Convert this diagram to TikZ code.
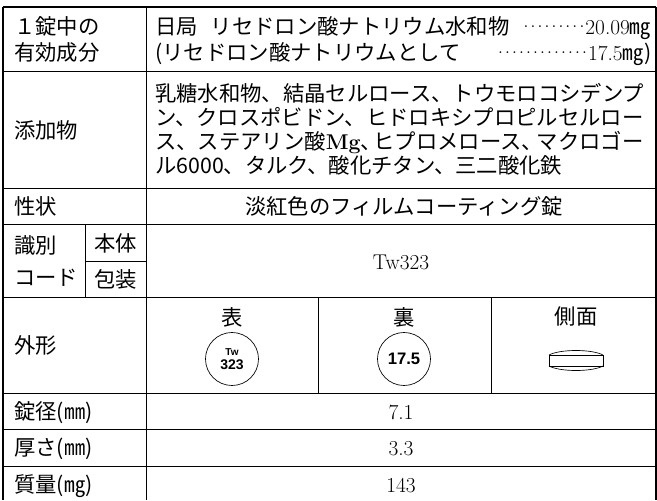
\documentclass[tikz,border=0pt]{standalone}
\usepackage{fontspec}
\newfontfamily\jpfont{Noto Sans CJK JP}
\newfontfamily\pillfont{Liberation Sans}
\newcommand\leaderdots[1]{\hbox to #1{\xleaders\hbox to 5.25pt{\hss\raisebox{0.3em}{\rmfamily .}\hss}\hfill}}
\newcommand\narrowcomma[1]{\makebox[#1][l]{、}}
\tikzset{
	grid/.style={line width=0.6pt},
	frame/.style={line width=1.3pt},
	lbl/.style={anchor=west, inner sep=0pt, text height=14pt, text depth=2pt, font={\fontsize{16pt}{20pt}\jpfont}},
	pill/.style={draw, circle, minimum size=39.75pt, line width=0.5pt, inner sep=0pt, align=center, font=\pillfont\bfseries}
}
\begin{document}
\begin{tikzpicture}[x=0.75pt,y=-0.75pt]
			\useasboundingbox (0,0) rectangle (657,500);
			
			\draw[frame](3,7)--(656,7);
			\draw[frame](3,7)--(3,500);
			\draw[frame](656,7)--(656,500);
			
			\draw[grid](3,71)--(656,71);
			\draw[grid](3,188)--(656,188);
			\draw[grid](3,224)--(656,224);
			\draw[grid](85,261)--(146,261);
			\draw[grid](3,297)--(656,297);
			\draw[grid](3,393)--(656,393);
			\draw[grid](3,429)--(656,429);
			\draw[grid](3,466)--(656,466);
			
			\draw[grid](146,7)--(146,500);
			\draw[grid](85,224)--(85,297);
			\draw[grid](318,297)--(318,393);
			\draw[grid](491,297)--(491,393);
			
			\node[lbl] (act1) at (14,26) {１錠中の};
			\node[lbl] (act2) at (14,52) {有効成分};
			\node[lbl] (dose1) at (155,26) {\makebox[372pt][l]{日局\hspace{0.6em}リセドロン酸ナトリウム水和物\hfill\leaderdots{47.25pt}{\rmfamily 20.09}㎎}};
			\node[lbl] (dose2) at (155,52) {\makebox[372pt][l]{({\rmfamily}リセドロン酸ナトリウムとして\hfill\leaderdots{68.25pt}{\rmfamily 17.5}㎎)}};
			
			\node[lbl] (add) at (14,130) {添加物};
			\node[lbl] (add1) at (155,93) {乳糖水和物、結晶セルロース、トウモロコシデンプ};
			\node[lbl] (add2) at (155,117) {ン、クロスポビドン、ヒドロキシプロピルセルロー};
			\node[lbl] (add3) at (155,141) {ス、ステアリン酸{\rmfamily\bfseries Mg}\narrowcomma{0.6em}ヒプロメロース\narrowcomma{0.7em}マクロゴー};
			\node[lbl] (add4) at (155,165) {ル6000、タルク、酸化チタン、三二酸化鉄};
			
			\node[lbl] (look) at (14,206) {性状};
			\node[lbl, anchor=center] (lookv) at (404,206) {淡紅色のフィルムコーティング錠};
			
			\node[lbl] (id1) at (14,245) {識別};
			\node[lbl] (id2) at (14,277) {コード};
			\node[lbl, anchor=center] (body) at (115.5,243) {本体};
			\node[lbl, anchor=center] (pack) at (115.5,279) {包装};
			\node[lbl, anchor=center] (code) at (401,261) {\rmfamily Tw323};
			
			\node[lbl] (shape) at (14,345) {外形};
			\node[lbl, anchor=center] (front) at (232,317) {表};
			\node[lbl, anchor=center] (back) at (404,317) {裏};
			\node[lbl, anchor=center] (side) at (576,316) {側面};
			\node[pill] (frontpill) at (232,359) {\fontsize{7.5pt}{8pt}\selectfont Tw\\[-1.5pt]\fontsize{10.5pt}{10pt}\selectfont 323};
			\node[pill] (backpill) at (404,359) {\fontsize{12.5pt}{12pt}\selectfont 17.5};
			
			\coordinate[](sidetl) at (549,355);
			\coordinate[](sidetr) at (603,355);
			\coordinate[](sidebl) at (549,366);
			\coordinate[](sidebr) at (603,366);
			\draw[line width=0.5pt](sidetl)--(sidetr)--(sidebr)--(sidebl)--cycle;
			\draw[line width=0.5pt](sidetl) .. controls (560,349) and (592,349) .. (sidetr);
			\draw[line width=0.5pt](sidebl) .. controls (560,372) and (592,372) .. (sidebr);
			
			\node[lbl] (dia) at (14,411) {錠径(㎜)};
			\node[lbl, anchor=center] (diav) at (401,411) {\rmfamily 7.1};
			\node[lbl] (thick) at (14,447.5) {厚さ(㎜)};
			\node[lbl, anchor=center] (thickv) at (401,447.5) {\rmfamily 3.3};
			\node[lbl] (mass) at (14,484) {質量(㎎)};
			\node[lbl, anchor=center] (massv) at (401,484) {\rmfamily 143};
			\end{tikzpicture}
\end{document}
